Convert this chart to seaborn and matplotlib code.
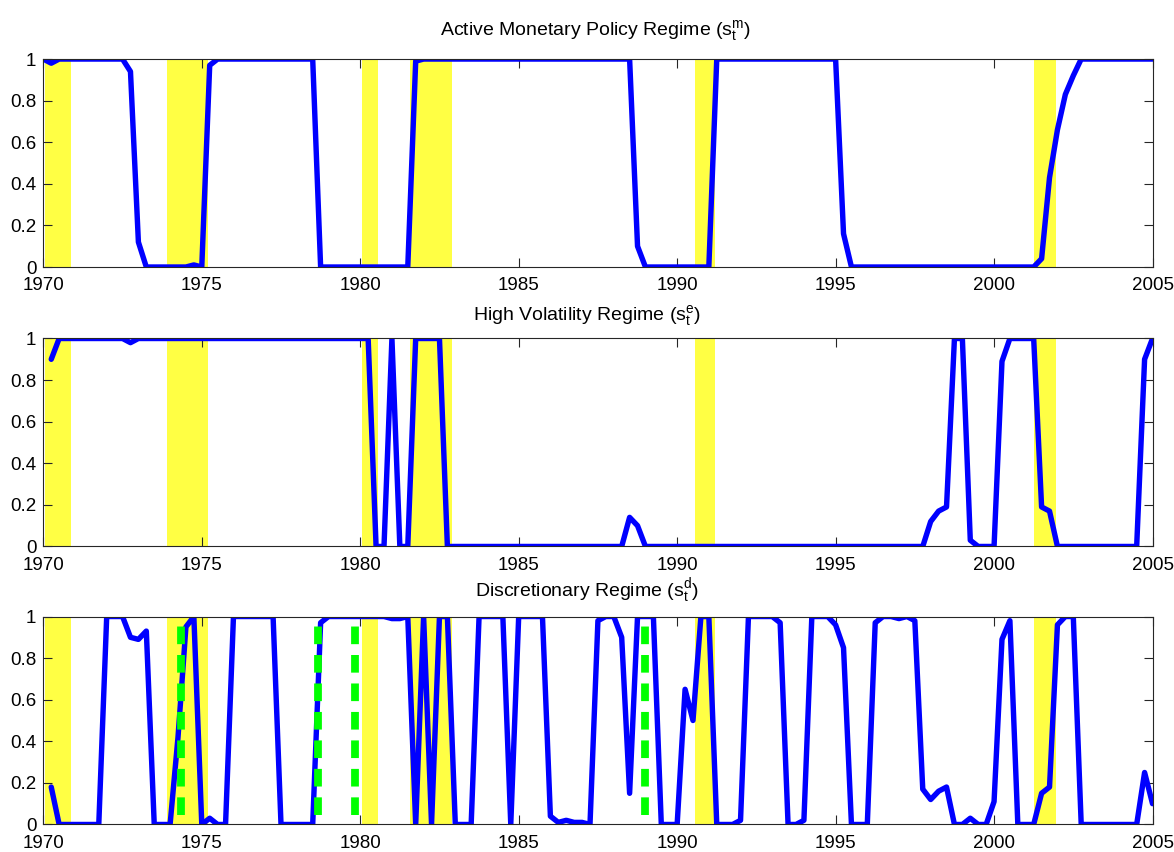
import numpy as np
import pandas as pd
import matplotlib
matplotlib.use("Agg")
import matplotlib.pyplot as plt
import seaborn as sns

# Quarterly dates, 1970Q1 .. 2005Q1
quarters = [y + q / 4 for y in range(1970, 2005) for q in range(4)] + [2005.0]

# Smoothed regime probabilities, one row per year (Q1..Q4), last entry 2005Q1
active_monetary = [
    1.00, 0.98, 1.00, 1.00,   # 1970
    1.00, 1.00, 1.00, 1.00,   # 1971
    1.00, 1.00, 1.00, 0.94,   # 1972
    0.12, 0.00, 0.00, 0.00,   # 1973
    0.00, 0.00, 0.00, 0.01,   # 1974
    0.00, 0.97, 1.00, 1.00,   # 1975
    1.00, 1.00, 1.00, 1.00,   # 1976
    1.00, 1.00, 1.00, 1.00,   # 1977
    1.00, 1.00, 1.00, 0.00,   # 1978
    0.00, 0.00, 0.00, 0.00,   # 1979
    0.00, 0.00, 0.00, 0.00,   # 1980
    0.00, 0.00, 0.00, 0.99,   # 1981
    1.00, 1.00, 1.00, 1.00,   # 1982
    1.00, 1.00, 1.00, 1.00,   # 1983
    1.00, 1.00, 1.00, 1.00,   # 1984
    1.00, 1.00, 1.00, 1.00,   # 1985
    1.00, 1.00, 1.00, 1.00,   # 1986
    1.00, 1.00, 1.00, 1.00,   # 1987
    1.00, 1.00, 1.00, 0.10,   # 1988
    0.00, 0.00, 0.00, 0.00,   # 1989
    0.00, 0.00, 0.00, 0.00,   # 1990
    0.00, 1.00, 1.00, 1.00,   # 1991
    1.00, 1.00, 1.00, 1.00,   # 1992
    1.00, 1.00, 1.00, 1.00,   # 1993
    1.00, 1.00, 1.00, 1.00,   # 1994
    1.00, 0.16, 0.00, 0.00,   # 1995
    0.00, 0.00, 0.00, 0.00,   # 1996
    0.00, 0.00, 0.00, 0.00,   # 1997
    0.00, 0.00, 0.00, 0.00,   # 1998
    0.00, 0.00, 0.00, 0.00,   # 1999
    0.00, 0.00, 0.00, 0.00,   # 2000
    0.00, 0.00, 0.04, 0.43,   # 2001
    0.66, 0.83, 0.92, 1.00,   # 2002
    1.00, 1.00, 1.00, 1.00,   # 2003
    1.00, 1.00, 1.00, 1.00,   # 2004
    1.00,                     # 2005
]

high_volatility = [
    np.nan, 0.90, 1.00, 1.00, # 1970
    1.00, 1.00, 1.00, 1.00,   # 1971
    1.00, 1.00, 1.00, 0.98,   # 1972
    1.00, 1.00, 1.00, 1.00,   # 1973
    1.00, 1.00, 1.00, 1.00,   # 1974
    1.00, 1.00, 1.00, 1.00,   # 1975
    1.00, 1.00, 1.00, 1.00,   # 1976
    1.00, 1.00, 1.00, 1.00,   # 1977
    1.00, 1.00, 1.00, 1.00,   # 1978
    1.00, 1.00, 1.00, 1.00,   # 1979
    1.00, 1.00, 0.00, 0.00,   # 1980
    1.00, 0.00, 0.00, 1.00,   # 1981
    1.00, 1.00, 1.00, 0.00,   # 1982
    0.00, 0.00, 0.00, 0.00,   # 1983
    0.00, 0.00, 0.00, 0.00,   # 1984
    0.00, 0.00, 0.00, 0.00,   # 1985
    0.00, 0.00, 0.00, 0.00,   # 1986
    0.00, 0.00, 0.00, 0.00,   # 1987
    0.00, 0.00, 0.14, 0.10,   # 1988
    0.00, 0.00, 0.00, 0.00,   # 1989
    0.00, 0.00, 0.00, 0.00,   # 1990
    0.00, 0.00, 0.00, 0.00,   # 1991
    0.00, 0.00, 0.00, 0.00,   # 1992
    0.00, 0.00, 0.00, 0.00,   # 1993
    0.00, 0.00, 0.00, 0.00,   # 1994
    0.00, 0.00, 0.00, 0.00,   # 1995
    0.00, 0.00, 0.00, 0.00,   # 1996
    0.00, 0.00, 0.00, 0.00,   # 1997
    0.12, 0.17, 0.19, 1.00,   # 1998
    1.00, 0.03, 0.00, 0.00,   # 1999
    0.00, 0.89, 1.00, 1.00,   # 2000
    1.00, 1.00, 0.19, 0.17,   # 2001
    0.00, 0.00, 0.00, 0.00,   # 2002
    0.00, 0.00, 0.00, 0.00,   # 2003
    0.00, 0.00, 0.00, 0.90,   # 2004
    1.00,                     # 2005
]

discretionary = [
    np.nan, 0.18, 0.00, 0.00, # 1970
    0.00, 0.00, 0.00, 0.00,   # 1971
    1.00, 1.00, 1.00, 0.90,   # 1972
    0.89, 0.93, 0.00, 0.00,   # 1973
    0.00, 0.42, 0.95, 1.00,   # 1974
    0.00, 0.03, 0.00, 0.00,   # 1975
    1.00, 1.00, 1.00, 1.00,   # 1976
    1.00, 1.00, 0.00, 0.00,   # 1977
    0.00, 0.00, 0.00, 0.97,   # 1978
    1.00, 1.00, 1.00, 1.00,   # 1979
    1.00, 1.00, 1.00, 1.00,   # 1980
    0.99, 0.99, 1.00, 0.00,   # 1981
    1.00, 0.00, 1.00, 1.00,   # 1982
    0.00, 0.00, 0.00, 1.00,   # 1983
    1.00, 1.00, 1.00, 0.00,   # 1984
    1.00, 1.00, 1.00, 1.00,   # 1985
    0.04, 0.01, 0.02, 0.01,   # 1986
    0.01, 0.00, 0.98, 1.00,   # 1987
    1.00, 0.90, 0.15, 1.00,   # 1988
    1.00, 1.00, 0.00, 0.00,   # 1989
    0.00, 0.65, 0.50, 1.00,   # 1990
    1.00, 0.00, 0.00, 0.00,   # 1991
    0.02, 1.00, 1.00, 1.00,   # 1992
    1.00, 0.97, 0.00, 0.00,   # 1993
    0.02, 1.00, 1.00, 1.00,   # 1994
    0.96, 0.85, 0.00, 0.00,   # 1995
    0.00, 0.97, 1.00, 1.00,   # 1996
    0.99, 1.00, 0.98, 0.17,   # 1997
    0.12, 0.16, 0.18, 0.00,   # 1998
    0.00, 0.03, 0.00, 0.00,   # 1999
    0.11, 0.89, 0.98, 0.00,   # 2000
    0.00, 0.00, 0.15, 0.18,   # 2001
    0.96, 1.00, 1.00, 0.00,   # 2002
    0.00, 0.00, 0.00, 0.00,   # 2003
    0.00, 0.00, 0.00, 0.25,   # 2004
    0.10,                     # 2005
]

# NBER recession periods (shaded)
recession_start = [1970.04, 1973.90, 1980.05, 1981.58, 1990.57, 2001.27]
recession_end = [1970.87, 1975.21, 1980.57, 1982.90, 1991.20, 2001.95]

# Romer-Romer dates (bottom panel only)
romer_dates = [1974.33, 1978.67, 1979.83, 1988.98]

x_ticks = [1970, 1975, 1980, 1985, 1990, 1995, 2000, 2005]
y_ticks = [0, 0.2, 0.4, 0.6, 0.8, 1.0]
y_tick_labels = ["0", "0.2", "0.4", "0.6", "0.8", "1"]

titles = [
    r"Active Monetary Policy Regime ($\mathregular{s_t^m}$)",
    r"High Volatility Regime ($\mathregular{s_t^e}$)",
    r"Discretionary Regime ($\mathregular{s_t^d}$)",
]

df = pd.DataFrame({
    "date": quarters * 3,
    "prob": active_monetary + high_volatility + discretionary,
    "regime": ["m"] * len(quarters) + ["e"] * len(quarters) + ["d"] * len(quarters),
})

sns.set_theme(style="ticks")
plt.rcParams["font.family"] = ["Liberation Sans", "DejaVu Sans"]
plt.rcParams["mathtext.fontset"] = "custom"
plt.rcParams["mathtext.rm"] = "Liberation Sans"
plt.rcParams["lines.scale_dashes"] = False

fig = plt.figure(figsize=(11.74, 8.52), dpi=100)

left, width, height = 0.0369, 0.9448, 0.2441
bottoms = [0.6866, 0.3586, 0.0323]
title_y = [1.118, 1.088, 1.100]
title_x = [0.498, 0.49, 0.49]

for i, regime in enumerate(["m", "e", "d"]):
    ax = fig.add_axes([left, bottoms[i], width, height])
    for s, e in zip(recession_start, recession_end):
        ax.axvspan(s, e, color="#FFFF44", lw=0, zorder=0)

    sub = df[df["regime"] == regime]
    sns.lineplot(data=sub, x="date", y="prob", ax=ax, color="#0000FF",
                 linewidth=3.9, estimator=None, sort=False, zorder=2,
                 legend=False)

    if regime == "d":
        ax.vlines(romer_dates, 0.045, 0.955, colors="#00FF00", linewidth=5.6,
                  linestyles=(0, (12.7, 7.8)), zorder=3)

    ax.set_xlim(1970, 2005)
    ax.set_ylim(0, 1)
    ax.set_xticks(x_ticks)
    ax.set_xticklabels([str(t) for t in x_ticks])
    ax.set_yticks(y_ticks)
    ax.set_yticklabels(y_tick_labels)
    ax.set_xlabel("")
    ax.set_ylabel("")
    ax.tick_params(direction="in", top=True, right=True, length=6.5,
                   width=0.8, color="#262626", labelsize=13.5,
                   labelcolor="black")
    ax.tick_params(axis="x", pad=7.5)
    ax.tick_params(axis="y", pad=5)
    for sp in ax.spines.values():
        sp.set_visible(True)
        sp.set_color("#262626")
        sp.set_linewidth(0.8)
    ax.text(title_x[i], title_y[i], titles[i], transform=ax.transAxes,
            ha="center", va="baseline", fontsize=14, color="black")

fig.savefig("out.png", dpi=100)
